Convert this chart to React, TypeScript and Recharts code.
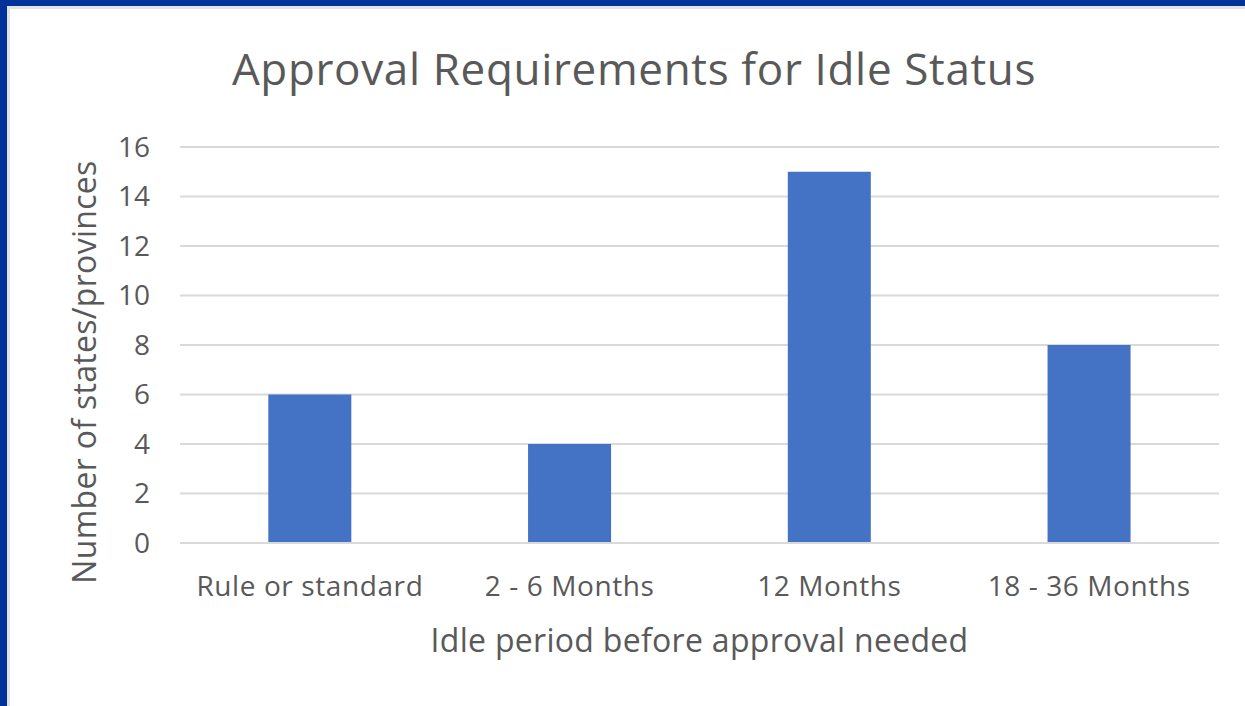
import { BarChart, Bar, XAxis, YAxis, CartesianGrid } from 'recharts';

const categories = ['Rule or standard', '2 - 6 Months', '12 Months', '18 - 36 Months'];
const counts = [6, 4, 15, 8];
const yTicks = [0, 2, 4, 6, 8, 10, 12, 14, 16];

const chartTitle = 'Approval Requirements for Idle Status';
const xTitle = 'Idle period before approval needed';
const yTitle = 'Number of states/provinces';

const FONT = '"Open Sans", sans-serif';
const TEXT = '#595959';
const GRID = '#d9d9d9';

const data = categories.map((name, i) => ({ name, count: counts[i] }));

export default function App() {
  return (
    <div
      style={{
        position: 'fixed',
        left: 0,
        top: 0,
        width: 1245,
        height: 706,
        background: '#003399',
        overflow: 'hidden',
      }}
    >
      <div
        style={{
          position: 'absolute',
          left: 7,
          top: 6,
          right: 0,
          bottom: 0,
          background: '#ffffff',
          borderLeft: '3px solid #e3e3e3',
          borderTop: '3px solid #e3e3e3',
        }}
      />
      <svg
        width={1245}
        height={120}
        style={{ position: 'absolute', left: 0, top: 0 }}
      >
        <text
          x={634}
          y={85}
          textAnchor="middle"
          fontFamily={FONT}
          fontSize={44}
          letterSpacing={0.65}
          fill={TEXT}
        >
          {chartTitle}
        </text>
      </svg>
      <div style={{ position: 'absolute', left: 0, top: 0 }}>
        <BarChart
          width={1245}
          height={706}
          data={data}
          margin={{ top: 147, right: 26, bottom: 103, left: 120 }}
          barCategoryGap="34%"
        >
          <CartesianGrid vertical={false} stroke={GRID} strokeWidth={2} />
          <XAxis
            dataKey="name"
            height={60}
            axisLine={{ stroke: GRID, strokeWidth: 2 }}
            tickLine={false}
            tickSize={0}
            tickMargin={33}
            tick={{ fontFamily: FONT, fontSize: 28, fill: TEXT, letterSpacing: 0.6 }}
            interval={0}
            label={{
              content: ({ viewBox }: any) => (
                <text
                  x={viewBox.x + viewBox.width / 2}
                  y={viewBox.y + 109}
                  textAnchor="middle"
                  fontFamily={FONT}
                  fontSize={32}
                  letterSpacing={0.3}
                  fill={TEXT}
                >
                  {xTitle}
                </text>
              ),
            }}
          />
          <YAxis
            width={60}
            domain={[0, 16]}
            ticks={yTicks}
            interval={0}
            axisLine={false}
            tickLine={false}
            tickSize={0}
            tickMargin={30}
            tick={{ fontFamily: FONT, fontSize: 28, fill: TEXT }}
            label={{
              content: () => (
                <text
                  x={83}
                  y={372}
                  transform="rotate(-90 83 372)"
                  textAnchor="middle"
                  dominantBaseline="central"
                  fontFamily={FONT}
                  fontSize={32}
                  letterSpacing={0.3}
                  fill={TEXT}
                >
                  {yTitle}
                </text>
              ),
            }}
          />
          <Bar dataKey="count" fill="#4472C4" isAnimationActive={false} />
        </BarChart>
      </div>
    </div>
  );
}
